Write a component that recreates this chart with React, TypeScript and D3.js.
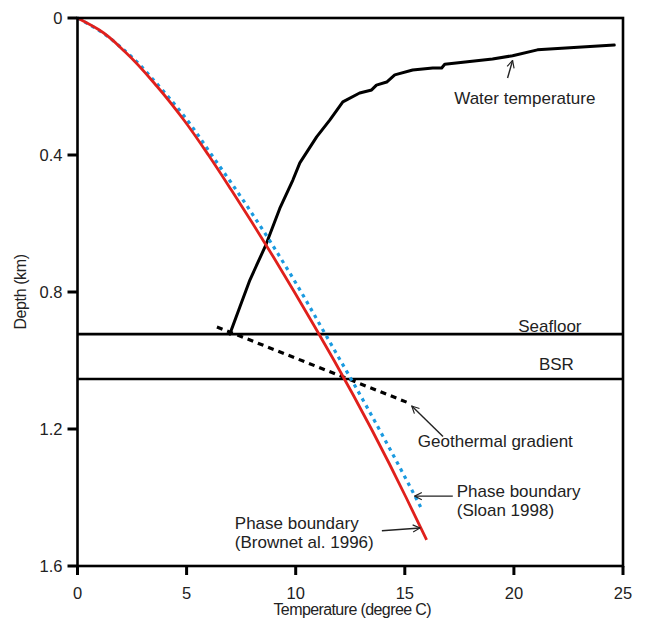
import React, { useEffect } from "react"
import * as d3 from "d3"

// ── Data (temperature °C, depth km) ───────────────────────────────────────────

const temperatureTicks = [0, 5, 10, 15, 20, 25]
const depthTicks = [0, 0.4, 0.8, 1.2, 1.6]

const brownDepth = [0, 0.035, 0.1, 0.2, 0.3, 0.4, 0.5, 0.6, 0.7, 0.8, 0.9, 1.0, 1.1, 1.2, 1.3, 1.4, 1.524]
const brownTemp = [0, 1.0, 2.2, 3.65, 4.9, 6.0, 7.03, 8.03, 9.0, 9.94, 10.86, 11.76, 12.63, 13.47, 14.28, 15.06, 16.0]

const sloanDepth = [0, 0.035, 0.1, 0.2, 0.3, 0.4, 0.5, 0.6, 0.7, 0.8, 0.9, 1.0, 1.1, 1.2, 1.3, 1.4, 1.437]
const sloanTemp = [0, 0.95, 2.25, 3.75, 5.05, 6.15, 7.25, 8.3, 9.3, 10.25, 11.15, 12.05, 12.95, 13.82, 14.67, 15.5, 15.8]

const waterTemp = [
  6.98, 7.44, 7.9, 8.63, 9.27, 9.87, 10.19, 10.96, 11.56, 12.16, 12.93, 13.48, 13.7,
  14.17, 14.54, 15.36, 16.28, 16.69, 16.83, 19.02, 19.94, 21.08, 24.6,
]
const waterDepth = [
  0.923, 0.844, 0.765, 0.663, 0.556, 0.473, 0.423, 0.347, 0.298, 0.245, 0.219, 0.21, 0.196,
  0.187, 0.166, 0.152, 0.146, 0.146, 0.135, 0.12, 0.11, 0.093, 0.079,
]

const geoTemp = [6.39, 15.18]
const geoDepth = [0.902, 1.124]

const seafloorDepth = 0.923
const bsrDepth = 1.054

// annotation anchors in data units
const annotations = [
  { lines: ["Water temperature"], t: 20.5, d: 0.251, anchor: "middle", from: [19.71, 0.175], to: [19.94, 0.124] },
  { lines: ["Geothermal gradient"], t: 19.15, d: 1.253, anchor: "middle", from: [16.75, 1.222], to: [15.32, 1.133] },
  { lines: ["Phase boundary", "(Sloan 1998)"], t: 17.38, d: 1.399, anchor: "start", from: [17.2, 1.396], to: [15.45, 1.396] },
  { lines: ["Phase boundary", "(Brownet al. 1996)"], t: 7.21, d: 1.492, anchor: "start", from: [13.95, 1.497], to: [15.7, 1.489] },
]

const FONT = "'Liberation Sans', Arial, sans-serif"
const W = 645
const H = 621

export default function App() {
  useEffect(() => {
    document.body.style.margin = "0"
  }, [])

  const x = d3.scaleLinear().domain([0, 25]).range([77.5, 623])
  const y = d3.scaleLinear().domain([0, 1.6]).range([18, 566])

  const line = d3
    .line<[number, number]>()
    .x(p => x(p[0]))
    .y(p => y(p[1]))

  const smooth = d3
    .line<[number, number]>()
    .x(p => x(p[0]))
    .y(p => y(p[1]))
    .curve(d3.curveMonotoneY)

  const zip = (a: number[], b: number[]) => a.map((v, i) => [v, b[i]] as [number, number])

  const [x0, x1] = x.range()
  const [y0, y1] = y.range()

  return (
    <svg width={W} height={H} style={{ display: "block", background: "#fff" }} fontFamily={FONT}>
      <defs>
        <marker id="arr" viewBox="0 0 10 10" refX={9} refY={5} markerWidth={9} markerHeight={9} orient="auto" markerUnits="userSpaceOnUse">
          <path d="M1,1 L9,5 L1,9" fill="none" stroke="#222" strokeWidth={1.3} />
        </marker>
      </defs>

      {/* Seafloor / BSR */}
      {[seafloorDepth, bsrDepth].map(d => (
        <line key={d} x1={x0} x2={x1} y1={y(d)} y2={y(d)} stroke="#000" strokeWidth={2.6} />
      ))}
      <text x={x(23.1)} y={y(seafloorDepth) - 2} textAnchor="end" fontSize={17} fill="#222">
        Seafloor
      </text>
      <text x={x(22.75)} y={y(bsrDepth) - 9} textAnchor="end" fontSize={17} fill="#222">
        BSR
      </text>

      {/* Water temperature */}
      <path d={line(zip(waterTemp, waterDepth)) ?? ""} fill="none" stroke="#000" strokeWidth={3} strokeLinejoin="round" strokeLinecap="round" />

      {/* Geothermal gradient */}
      <path d={line(zip(geoTemp, geoDepth)) ?? ""} fill="none" stroke="#000" strokeWidth={3.2} strokeDasharray="6 5" />

      {/* Phase boundaries */}
      <path d={smooth(zip(sloanTemp, sloanDepth)) ?? ""} fill="none" stroke="#1a9ae0" strokeWidth={3.2} strokeDasharray="3.5 4.5" />
      <path d={smooth(zip(brownTemp, brownDepth)) ?? ""} fill="none" stroke="#e0201c" strokeWidth={2.8} />

      {/* Annotations */}
      {annotations.map((a, i) => (
        <g key={i}>
          <line
            x1={x(a.from[0])}
            y1={y(a.from[1])}
            x2={x(a.to[0])}
            y2={y(a.to[1])}
            stroke="#222"
            strokeWidth={1.4}
            markerEnd="url(#arr)"
          />
          {a.lines.map((l, j) => (
            <text key={j} x={x(a.t)} y={y(a.d) + j * 19} textAnchor={a.anchor as any} fontSize={17} fill="#222">
              {l}
            </text>
          ))}
        </g>
      ))}

      {/* Frame */}
      <rect x={x0} y={y0} width={x1 - x0} height={y1 - y0} fill="none" stroke="#000" strokeWidth={2.6} />

      {/* X axis */}
      {temperatureTicks.map(t => (
        <g key={t} transform={`translate(${x(t)},${y1})`}>
          <line y2={9} stroke="#000" strokeWidth={3} />
          <text y={33} textAnchor="middle" fontSize={16.5} fill="#222">
            {t}
          </text>
        </g>
      ))}
      <text x={(x0 + x1) / 2 + 2} y={615} textAnchor="middle" fontSize={16} letterSpacing={-0.6} fill="#222">
        Temperature (degree C)
      </text>

      {/* Y axis */}
      {depthTicks.map(d => (
        <g key={d} transform={`translate(${x0},${y(d)})`}>
          <line x2={-10} stroke="#000" strokeWidth={3} />
          <text x={-15} dy="0.36em" textAnchor="end" fontSize={16.5} fill="#222">
            {d === 0 ? "0" : d.toFixed(1)}
          </text>
        </g>
      ))}
      <text
        transform={`translate(26,${(y0 + y1) / 2}) rotate(-90)`}
        textAnchor="middle"
        fontSize={16}
        letterSpacing={-0.4}
        fill="#222"
      >
        Depth (km)
      </text>
    </svg>
  )
}
